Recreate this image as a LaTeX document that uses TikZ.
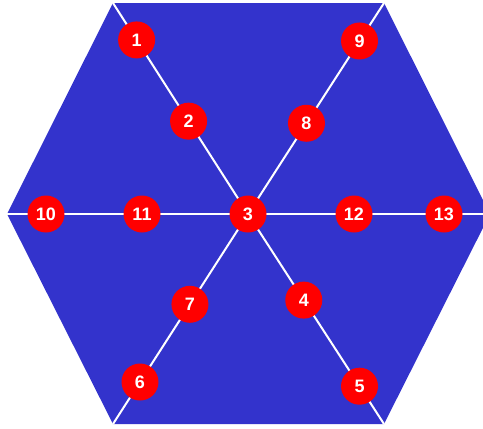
\documentclass[tikz,border=0pt]{standalone}
\usepackage{fontspec}
\setmainfont{Liberation Sans}
\usetikzlibrary{calc}
\definecolor{hexblue}{RGB}{51,51,204}
\definecolor{dotred}{RGB}{255,0,0}
\begin{document}
\begin{tikzpicture}[x=1pt,y=-1pt,
  dot/.style={circle,fill=dotred,minimum size=37pt,inner sep=0pt,text=white,font=\bfseries\fontsize{18}{18}\selectfont},
  spoke/.style={white,line width=2pt}]
\useasboundingbox (0,0) rectangle (483,429);
\begin{scope}
\clip (0,0) rectangle (483,429);
\coordinate (vtl) at (113,3);
\coordinate (vtr) at (384,3);
\coordinate (vl) at (7,214);
\coordinate (vr) at (490,214);
\coordinate (vbl) at (113,424);
\coordinate (vbr) at (384,424);
\fill[hexblue] (vtl) -- (vtr) -- (vr) -- (vbr) -- (vbl) -- (vl) -- cycle;
\coordinate (c) at (248,214);
\draw[spoke] (c) -- (vtl);
\draw[spoke] (c) -- (vtr);
\draw[spoke] (vl) -- (vr);
\draw[spoke] (c) -- (vbl);
\draw[spoke] (c) -- (vbr);
\end{scope}
\node[dot] (n3) at (c) {3};
\node[dot] (n1) at ($(c)!0.825!(vtl)$) {1};
\node[dot] (n2) at ($(c)!0.44!(vtl)$) {2};
\node[dot] (n9) at ($(c)!0.82!(vtr)$) {9};
\node[dot] (n8) at ($(c)!0.43!(vtr)$) {8};
\node[dot] (n10) at (46,214) {10};
\node[dot] (n11) at (142,214) {11};
\node[dot] (n12) at (354,214) {12};
\node[dot] (n13) at (444,214) {13};
\node[dot] (n7) at ($(c)!0.43!(vbl)$) {7};
\node[dot] (n6) at ($(c)!0.80!(vbl)$) {6};
\node[dot] (n4) at ($(c)!0.41!(vbr)$) {4};
\node[dot] (n5) at ($(c)!0.82!(vbr)$) {5};
\end{tikzpicture}
\end{document}
